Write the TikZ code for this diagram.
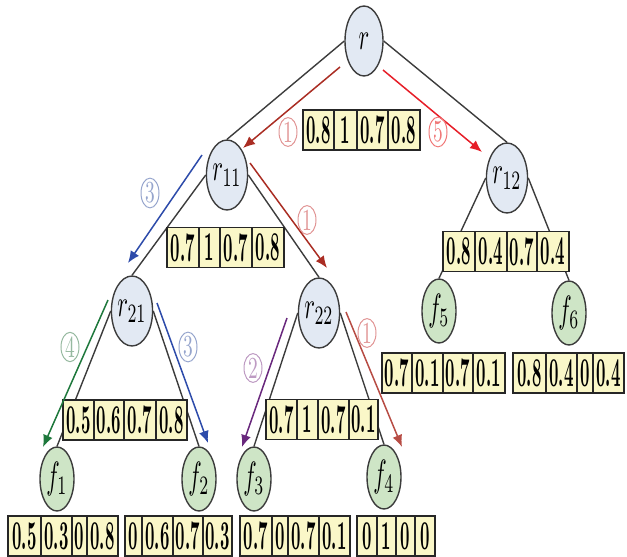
\documentclass[tikz,border=0pt]{standalone}
\usepackage{graphicx}
\usetikzlibrary{shapes.geometric,arrows.meta}
\definecolor{rfill}{RGB}{226,233,243}
\definecolor{ffill}{RGB}{206,229,198}
\definecolor{cellfill}{RGB}{250,247,200}
\definecolor{edgegray}{RGB}{60,60,60}
\definecolor{brownred}{RGB}{170,45,35}
\definecolor{brightred}{RGB}{230,30,40}
\definecolor{flowblue}{RGB}{45,75,170}
\definecolor{flowgreen}{RGB}{30,120,60}
\definecolor{flowpurple}{RGB}{105,40,125}
\definecolor{lpink}{RGB}{225,150,150}
\definecolor{lred}{RGB}{240,120,120}
\definecolor{lblue}{RGB}{150,165,205}
\definecolor{lgreen}{RGB}{150,185,160}
\definecolor{lpurple}{RGB}{190,155,195}
\pgfdeclarelayer{bg}
\pgfsetlayers{bg,main}
\newcommand\tall[1]{\scalebox{0.82}[2.05]{\bfseries #1}}
\newcommand\tallm[1]{\scalebox{1.12}[1.9]{#1}}
\newcommand\tallc[1]{\scalebox{1.05}[1.7]{#1}}
\newcommand\celltable[4]{%
  \foreach \w/\tv [count=\i, remember=\nx as \cx (initially #2)] in {#4}{%
    \pgfmathsetmacro\nx{\cx+\w}%
    \node[cell, minimum width=\w*0.5pt] (#1-\i) at ({\cx+\w/2},#3) {\tall{\tv}};
  }%
}
\tikzset{
  rnode/.style={ellipse, draw=edgegray, fill=rfill, line width=0.7pt, minimum width=19pt, minimum height=35pt, inner sep=0pt},
  fnode/.style={ellipse, draw=edgegray, fill=ffill, line width=0.7pt, minimum width=17pt, minimum height=32pt, inner sep=0pt},
  cell/.style={rectangle, draw=black!85, fill=cellfill, line width=0.7pt, minimum height=20pt, inner sep=0pt},
  tree/.style={draw=edgegray, line width=0.7pt},
  flow/.style={line width=0.75pt, -{Latex[length=6pt,width=5pt]}},
  num/.style={ellipse, draw=#1, text=#1, line width=0.5pt, minimum width=9pt, minimum height=13pt, inner sep=0pt, font=\small}
}
\begin{document}
\begin{tikzpicture}[x=0.5pt,y=-0.5pt]
\useasboundingbox (0,0) rectangle (627,557);
% tree nodes
\node[rnode] (r)   at (364,41)  {\tallm{$r$}};
\node[rnode] (r11) at (227,175) {\tallm{$r_{11}$}};
\node[rnode] (r12) at (507,178) {\tallm{$r_{12}$}};
\node[rnode] (r21) at (132,311) {\tallm{$r_{21}$}};
\node[rnode] (r22) at (319,313) {\tallm{$r_{22}$}};
\node[fnode] (f1) at (57,479)  {\tallm{$f_1$}};
\node[fnode] (f2) at (199,479) {\tallm{$f_2$}};
\node[fnode] (f3) at (254,479) {\tallm{$f_3$}};
\node[fnode] (f4) at (384,477) {\tallm{$f_4$}};
\node[fnode] (f5) at (439,311) {\tallm{$f_5$}};
\node[fnode] (f6) at (569,313) {\tallm{$f_6$}};
% tree edges
\begin{pgfonlayer}{bg}
\draw[tree] (r.west) -- (r11.north);
\draw[tree] (r.east) -- (r12.north);
\draw[tree] (r11.west) -- (r21.north);
\draw[tree] (r11.east) -- (r22.north);
\draw[tree] (r12.west) -- (f5.north);
\draw[tree] (r12.east) -- (f6.north);
\draw[tree] (r21.west) -- (f1.north);
\draw[tree] (r21.east) -- (f2.north);
\draw[tree] (r22.west) -- (f3.north);
\draw[tree] (r22.east) -- (f4.north);
\end{pgfonlayer}
% tables
\celltable{tr}{303}{130}{31/0.8,23/1,31/0.7,32/0.8}
\celltable{tra}{167}{247.5}{32/0.7,21/1,32/0.7,32/0.8}
\celltable{trb}{443}{251.5}{32/0.8,32/0.4,30/0.7,32/0.4}
\celltable{trc}{63}{420}{31/0.5,30/0.6,32/0.7,31/0.8}
\celltable{trd}{266}{419.5}{31/0.7,21/1,31/0.7,29/0.1}
\celltable{tfa}{8}{536}{33/0.5,31/0.3,15/0,31/0.8}
\celltable{tfb}{125}{536}{17/0,31/0.6,30/0.7,29/0.3}
\celltable{tfc}{240}{536}{32/0.7,16/0,31/0.7,31/0.1}
\celltable{tfd}{357}{536}{20/0,19/1,19/0,20/0}
\celltable{tfe}{382}{373}{30/0.7,31/0.1,30/0.7,32/0.1}
\celltable{tff}{513}{373}{33/0.8,31/0.4,16/0,31/0.4}
% flow arrows
\coordinate (a1s) at (340,67);  \coordinate (a1e) at (243,148);
\coordinate (a5s) at (383,70);  \coordinate (a5e) at (482,152);
\coordinate (a3s) at (202,155); \coordinate (a3e) at (128,263);
\coordinate (b1s) at (250,163); \coordinate (b1e) at (327,268);
\coordinate (a4s) at (108,300); \coordinate (a4e) at (43,447);
\coordinate (b3s) at (157,303); \coordinate (b3e) at (208,443);
\coordinate (a2s) at (287,318); \coordinate (a2e) at (242,447);
\coordinate (c1s) at (346,312); \coordinate (c1e) at (402,447);
\draw[flow, brownred]   (a1s) -- (a1e);
\draw[flow, brightred]  (a5s) -- (a5e);
\draw[flow, flowblue]   (a3s) -- (a3e);
\draw[flow, brownred]   (b1s) -- (b1e);
\draw[flow, flowgreen]  (a4s) -- (a4e);
\draw[flow, flowblue]   (b3s) -- (b3e);
\draw[flow, flowpurple] (a2s) -- (a2e);
\draw[flow, brownred!85] (c1s) -- (c1e);
% circled numbers
\node[num=lpink]   (n1a) at (288,132) {\tallc{1}};
\node[num=lred]    (n5)  at (438,132) {\tallc{5}};
\node[num=lblue]   (n3a) at (150,193) {\tallc{3}};
\node[num=lpink]   (n1b) at (307,220) {\tallc{1}};
\node[num=lgreen]  (n4)  at (70,347)  {\tallc{4}};
\node[num=lblue]   (n3b) at (188,347) {\tallc{3}};
\node[num=lpurple] (n2)  at (253,368) {\tallc{2}};
\node[num=lpink]   (n1c) at (367,333) {\tallc{1}};
\end{tikzpicture}
\end{document}
